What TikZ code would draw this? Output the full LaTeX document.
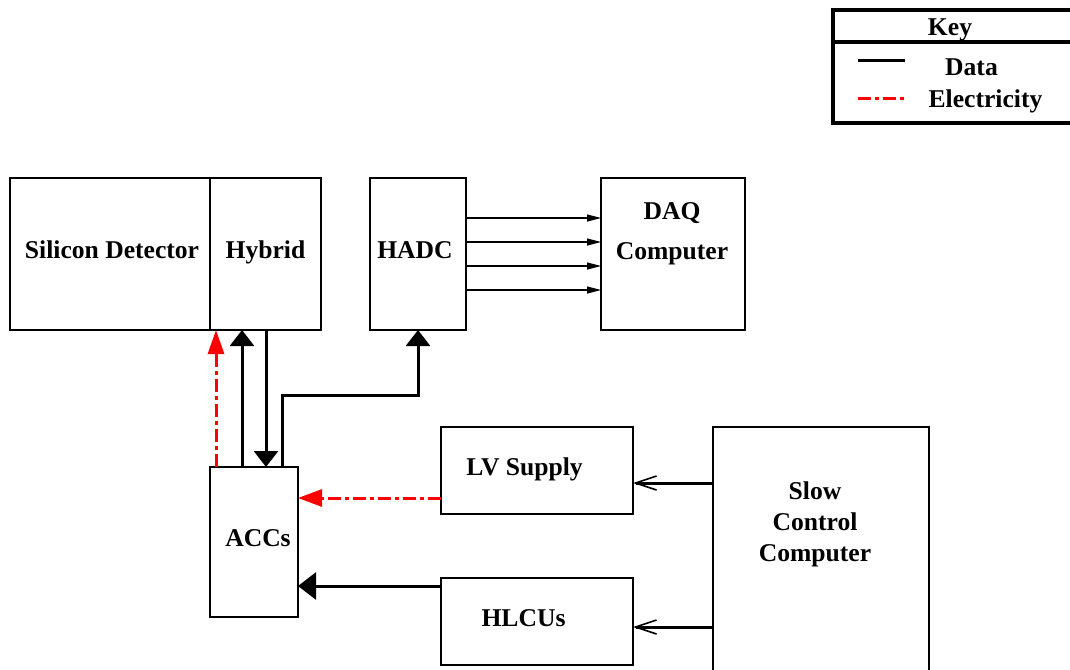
\documentclass[tikz,border=0pt]{standalone}
\usepackage{fontspec}
\setmainfont{Liberation Serif}
\usetikzlibrary{arrows.meta,positioning}

\begin{document}
\begin{tikzpicture}[
  x=0.5pt, y=-0.5pt,
  font=\fontsize{12.8}{15.5}\selectfont\bfseries,
  every node/.style={align=center},
  box/.style={draw, line width=0.6pt, inner sep=0pt, outer sep=0pt, minimum height=76pt},
  txt/.style={inner sep=0pt},
  data/.style={line width=1.5pt},
  elec/.style={red, line width=1.5pt, dash pattern=on 6.5pt off 2pt on 2pt off 2pt},
  bus/.style={line width=0.6pt, -{Triangle[length=7pt,width=3.5pt]}},
  ctrl/.style={line width=1.5pt, -{Straight Barb[length=10.5pt,width=7pt,line width=0.8pt 0]}},
]
  \useasboundingbox (0,0) rectangle (1070,669);

  % front-end row
  \node[box, minimum width=100pt] (sil) at (110,254) {};
  \node[box, minimum width=55.5pt, right=0pt of sil] (hybrid) {};
  \node[box, minimum width=48pt, right=24.5pt of hybrid] (hadc) {};
  \node[box, minimum width=72pt, right=67.5pt of hadc] (daq) {};

  % control row
  \node[box, minimum width=44pt, minimum height=75pt] (accs) at (254,542) {};
  \node[box, minimum width=96pt, minimum height=43.5pt] (lv) at (537,470.5) {};
  \node[box, minimum width=96pt, minimum height=43.5pt, below=32pt of lv] (hlcu) {};
  \node[box, minimum width=108pt, minimum height=136.5pt, anchor=north west] (slow) at (713,427) {};

  % box texts
  \node[txt] (siltxt) at (112,250) {Silicon Detector};
  \node[txt] (hybtxt) at (265.5,252.5) {Hybrid};
  \node[txt] (hadctxt) at (415,250) {HADC};
  \node[txt] (daqtxt) at (672,233.5) {DAQ\\[4.5pt]Computer};
  \node[txt] (accstxt) at (258,538) {ACCs};
  \node[txt] (lvtxt) at (524.5,469.5) {LV Supply};
  \node[txt] (hlcutxt) at (523.5,618) {HLCUs};
  \node[txt] (slowtxt) at (815,524.5) {Slow\\Control\\Computer};

  % key
  \node[draw, line width=1.6pt, inner sep=0pt, outer sep=0pt, minimum width=133.5pt,
        minimum height=56.5pt, anchor=north west] (key) at (833,10) {};
  \coordinate (keyrule) at (833,42);
  \draw[line width=1.6pt] (keyrule) -- (keyrule -| key.east);
  \node[txt] (keytxt) at (950,29.5) {Key};
  \coordinate (kd1) at (858,60); \coordinate (kd2) at (905,60);
  \coordinate (ke1) at (858,98); \coordinate (ke2) at (905,98);
  \draw[data] (kd1) -- (kd2);
  \draw[elec] (ke1) -- (ke2);
  \node[txt] (datatxt) at (971.5,67) {Data};
  \node[txt] (electxt) at (985.5,101.5) {Electricity};

  % lines between ACCs and the hybrid / HADC
  \coordinate (pwr) at ([xshift=3pt]accs.north west);
  \coordinate (up) at ([xshift=16pt]accs.north west);
  \coordinate (dn) at ([xshift=28pt]accs.north west);
  \coordinate (out) at ([xshift=36pt]accs.north west);
  \draw[elec, -{Triangle[length=12pt,width=8pt]}] (pwr) -- (pwr |- hybrid.south);
  \draw[data, -{Triangle[length=8pt,width=12pt]}] (up) -- (up |- hybrid.south);
  \draw[data, -{Triangle[length=8pt,width=12pt]}] (dn |- hybrid.south) -- (dn);
  \draw[data, -{Triangle[length=8pt,width=12pt]}] (out) -- ++(0,-72) -| (hadc.south);

  % inputs to the ACCs
  \coordinate (lvout) at ([yshift=8pt]lv.south west);
  \coordinate (hlout) at ([yshift=-4pt]hlcu.north west);
  \draw[elec, -{Triangle[length=12pt,width=8.5pt]}] (lvout) -- (lvout -| accs.east);
  \draw[data, -{Triangle[length=9pt,width=13.5pt]}] (hlout) -- (hlout -| accs.east);

  % slow control
  \coordinate (sc1) at ([yshift=-28pt]slow.north west);
  \coordinate (sc2) at ([yshift=-100pt]slow.north west);
  \draw[ctrl] (sc1) -- (sc1 -| lv.east);
  \draw[ctrl] (sc2) -- (sc2 -| hlcu.east);

  % HADC readout to DAQ
  \foreach \dy in {20,32,44,56}{
    \coordinate (rd\dy) at ([yshift=-\dy*1pt]hadc.north east);
    \draw[bus] (rd\dy) -- (rd\dy -| daq.west);
  }
\end{tikzpicture}
\end{document}
